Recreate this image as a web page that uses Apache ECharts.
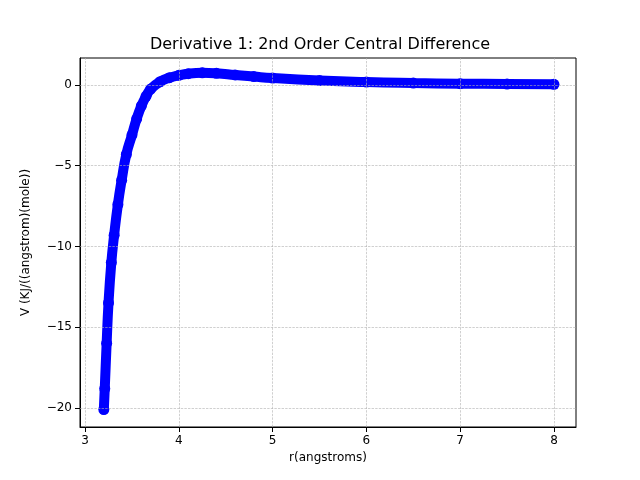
<!DOCTYPE html>
<html><head><meta charset="utf-8">
<script src="https://cdn.jsdelivr.net/npm/echarts@6/dist/echarts.min.js"></script>
<style>html,body{margin:0;background:#fff}#c{width:640px;height:480px}</style>
</head><body><div id="c"></div>
<script>
var rVals = [3.20, 3.21, 3.23, 3.25, 3.28, 3.31, 3.35, 3.39, 3.44, 3.50, 3.55, 3.60, 3.65, 3.70, 3.80, 3.90, 4.00, 4.10, 4.25, 4.40, 4.60, 4.80, 5.00, 5.50, 6.00, 6.50, 7.00, 7.50, 8.00];
var vVals = [-20.1, -18.8, -16.0, -13.5, -11.0, -9.3, -7.4, -5.9, -4.3, -3.1, -2.1, -1.3, -0.7, -0.25, 0.2, 0.45, 0.6, 0.7, 0.75, 0.72, 0.62, 0.52, 0.43, 0.28, 0.18, 0.12, 0.08, 0.06, 0.04];
var xTicks = [3, 4, 5, 6, 7, 8];
var yTicks = [-20, -15, -10, -5, 0];

var chart = echarts.init(document.getElementById('c'));
var pts = rVals.map(function (r, i) { return [r, vVals[i]]; });
var font = 'DejaVu Sans';
var gridLine = { type: 'dashed', color: '#b0b0b0', width: 0.6 };
chart.setOption({
    animation: false,
    title: { text: 'Derivative 1: 2nd Order Central Difference', left: 'center', top: 32,
        textStyle: { fontFamily: font, fontWeight: 'normal', fontSize: 16, color: '#000' } },
    grid: { left: 80, right: 64, top: 58, bottom: 53, show: true, borderColor: '#000', borderWidth: 1 },
    xAxis: {
        type: 'value', min: 2.946, max: 8.235,
        name: 'r(angstroms)', nameLocation: 'middle', nameGap: 24,
        nameTextStyle: { fontFamily: font, fontSize: 12, color: '#000' },
        axisLine: { onZero: false, lineStyle: { color: '#000' } },
        axisTick: { show: true, customValues: xTicks, lineStyle: { color: '#000' } },
        axisLabel: { fontFamily: font, fontSize: 12, color: '#000', customValues: xTicks },
        splitLine: { show: false }
    },
    yAxis: {
        type: 'value', min: -21.18, max: 1.67,
        name: 'V (KJ/((angstrom)(mole))', nameLocation: 'middle', nameGap: 48,
        nameTextStyle: { fontFamily: font, fontSize: 12, color: '#000' },
        axisLine: { show: true, onZero: false, lineStyle: { color: '#000' } },
        axisTick: { show: true, customValues: yTicks, lineStyle: { color: '#000' } },
        axisLabel: { fontFamily: font, fontSize: 12, color: '#000', customValues: yTicks,
            formatter: function (v) { return String(v).replace('-', '\u2212'); } },
        splitLine: { show: false }
    },
    series: [{
        type: 'line', data: [], z: 1, markLine: { silent: true, symbol: 'none', label: { show: false },
            lineStyle: gridLine,
            data: yTicks.map(function (y) { return { yAxis: y }; })
                .concat(xTicks.map(function (x) { return { xAxis: x }; })) }
    }, {
        type: 'line', data: pts, smooth: true, showSymbol: true, symbol: 'circle', symbolSize: 11, z: 3,
        itemStyle: { color: '#0000ff' },
        lineStyle: { color: '#0000ff', width: 10, cap: 'round' }
    }]
});
</script></body></html>
